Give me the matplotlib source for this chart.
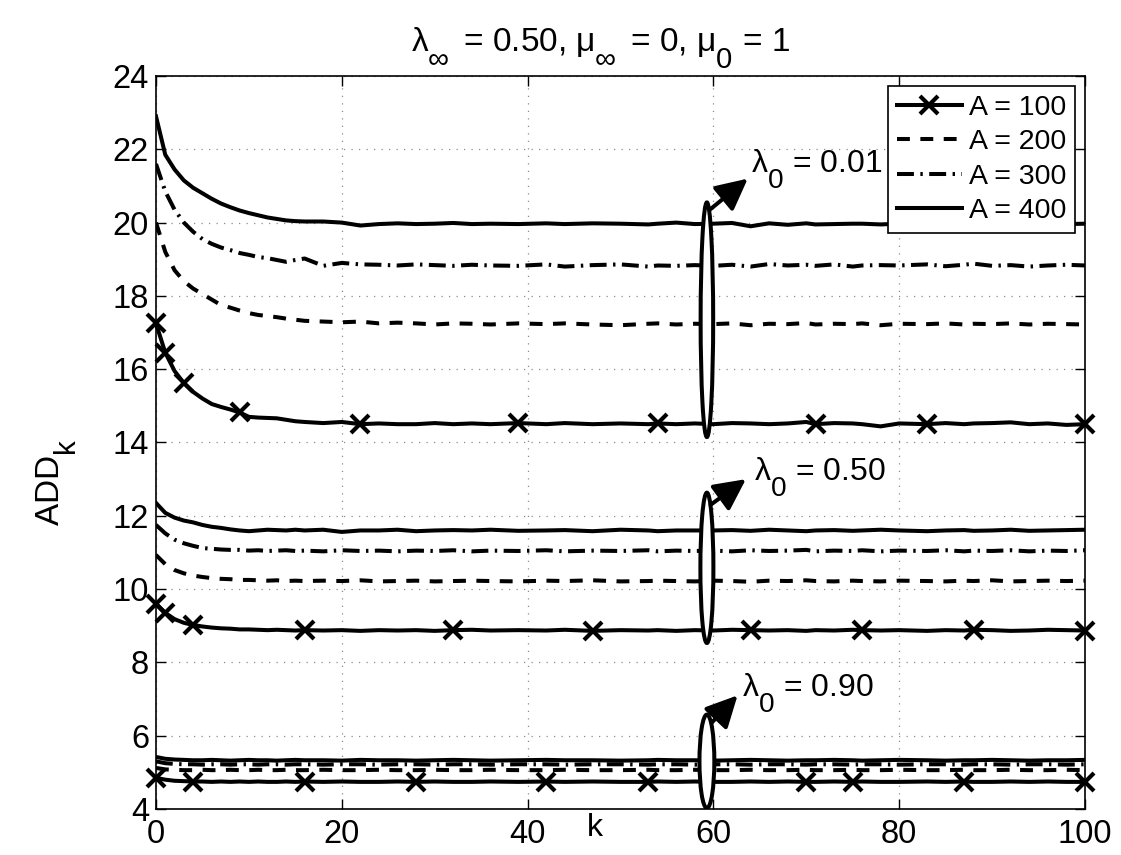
import matplotlib
matplotlib.use("Agg")
import matplotlib.pyplot as plt
from matplotlib.patches import Ellipse
import matplotlib._mathtext as _mt

# MATLAB-like subscripts: larger and lower than mathtext defaults
_mt.SHRINK_FACTOR = 0.88
_mt.FontConstantsBase.sub1 = 0.95

plt.rcParams['font.family'] = ['Liberation Sans', 'DejaVu Sans']
plt.rcParams['mathtext.fontset'] = 'custom'
plt.rcParams['mathtext.rm'] = 'Liberation Sans'
plt.rcParams['mathtext.it'] = 'Liberation Sans'
plt.rcParams['mathtext.bf'] = 'Liberation Sans:bold'

# ---------------- data ----------------
k_vals = [0, 1, 2, 3, 4, 5, 6, 7, 8, 9, 10, 11, 12, 13, 14, 15, 16,
          18, 20, 22, 24, 26, 28, 30, 32, 34, 36,
          39, 42, 44, 47, 50, 53, 54, 56, 58, 60,
          62, 64, 66, 68, 70, 71, 73, 75, 76, 78, 80,
          83, 85, 87, 88, 90, 92, 94, 96, 98, 100]

a_labels = ['A = 100', 'A = 200', 'A = 300', 'A = 400']

# lambda_0 = 0.01
l001_a100 = [17.25, 16.45, 15.95, 15.62, 15.38, 15.20, 15.05, 14.97, 14.90, 14.82, 14.70, 14.68, 14.67, 14.66, 14.62, 14.58, 14.56,
             14.53, 14.56, 14.50, 14.52, 14.50, 14.50, 14.53, 14.50, 14.52, 14.50,
             14.53, 14.50, 14.53, 14.50, 14.52, 14.50, 14.52, 14.50, 14.52, 14.50,
             14.53, 14.52, 14.50, 14.52, 14.56, 14.50, 14.53, 14.52, 14.50, 14.44, 14.52,
             14.50, 14.53, 14.50, 14.52, 14.53, 14.55, 14.50, 14.52, 14.48, 14.50]
l001_a200 = [20.00, 19.20, 18.70, 18.40, 18.20, 18.05, 17.90, 17.75, 17.68, 17.60, 17.53, 17.48, 17.45, 17.42, 17.38, 17.35, 17.32,
             17.30, 17.28, 17.30, 17.25, 17.27, 17.25, 17.22, 17.25, 17.24, 17.22,
             17.25, 17.23, 17.25, 17.22, 17.20, 17.24, 17.25, 17.22, 17.24, 17.23,
             17.25, 17.20, 17.24, 17.23, 17.26, 17.22, 17.24, 17.23, 17.25, 17.20, 17.24,
             17.23, 17.25, 17.22, 17.24, 17.23, 17.25, 17.22, 17.24, 17.23, 17.22]
l001_a300 = [21.60, 20.85, 20.35, 20.00, 19.75, 19.55, 19.42, 19.32, 19.25, 19.17, 19.12, 19.06, 19.03, 18.98, 18.93, 18.98, 19.02,
             18.82, 18.90, 18.86, 18.85, 18.83, 18.86, 18.84, 18.82, 18.85, 18.83,
             18.82, 18.86, 18.80, 18.84, 18.86, 18.80, 18.83, 18.82, 18.84, 18.82,
             18.85, 18.80, 18.87, 18.83, 18.85, 18.82, 18.86, 18.80, 18.83, 18.84, 18.83,
             18.86, 18.81, 18.85, 18.88, 18.82, 18.84, 18.80, 18.83, 18.85, 18.83]
l001_a400 = [22.90, 21.85, 21.45, 21.15, 20.95, 20.80, 20.65, 20.52, 20.42, 20.33, 20.26, 20.20, 20.14, 20.10, 20.06, 20.04, 20.03,
             20.03, 20.00, 19.92, 19.96, 19.98, 19.96, 19.97, 19.99, 19.96, 19.97,
             19.96, 19.98, 19.96, 19.98, 19.97, 19.95, 19.97, 20.00, 19.96, 19.97,
             19.99, 19.90, 19.98, 19.94, 19.98, 19.95, 19.96, 19.97, 19.97, 19.95, 19.97,
             19.96, 19.98, 19.95, 19.97, 19.96, 19.98, 19.95, 19.97, 19.96, 19.97]

# lambda_0 = 0.50
l050_a100 = [9.60, 9.35, 9.18, 9.08, 9.02, 8.98, 8.95, 8.93, 8.92, 8.90, 8.90, 8.89, 8.88, 8.89, 8.88, 8.87, 8.88,
             8.87, 8.88, 8.86, 8.88, 8.87, 8.88, 8.86, 8.88, 8.89, 8.87,
             8.88, 8.87, 8.89, 8.86, 8.88, 8.87, 8.88, 8.86, 8.88, 8.87,
             8.89, 8.88, 8.87, 8.88, 8.86, 8.88, 8.87, 8.89, 8.88, 8.87, 8.88,
             8.86, 8.88, 8.87, 8.89, 8.88, 8.86, 8.87, 8.89, 8.88, 8.87]
l050_a200 = [10.93, 10.68, 10.52, 10.43, 10.37, 10.33, 10.30, 10.28, 10.27, 10.25, 10.25, 10.24, 10.23, 10.24, 10.22, 10.23, 10.22,
             10.23, 10.22, 10.24, 10.21, 10.22, 10.23, 10.21, 10.22, 10.23, 10.22,
             10.21, 10.23, 10.22, 10.24, 10.21, 10.22, 10.23, 10.22, 10.21, 10.23,
             10.22, 10.20, 10.23, 10.22, 10.24, 10.22, 10.21, 10.23, 10.22, 10.21, 10.23,
             10.22, 10.21, 10.23, 10.22, 10.24, 10.21, 10.22, 10.23, 10.22, 10.23]
l050_a300 = [11.75, 11.52, 11.35, 11.25, 11.18, 11.12, 11.10, 11.08, 11.07, 11.07, 11.05, 11.06, 11.04, 11.05, 11.06, 11.04, 11.05,
             11.03, 11.06, 11.04, 11.05, 11.03, 11.05, 11.04, 11.06, 11.03, 11.05,
             11.04, 11.06, 11.03, 11.05, 11.04, 11.06, 11.03, 11.05, 11.04, 11.05,
             11.03, 11.06, 11.04, 11.05, 11.07, 11.03, 11.05, 11.04, 11.06, 11.03, 11.05,
             11.04, 11.06, 11.03, 11.05, 11.04, 11.06, 11.03, 11.05, 11.04, 11.06]
l050_a400 = [12.35, 12.08, 11.95, 11.87, 11.82, 11.75, 11.70, 11.67, 11.63, 11.60, 11.58, 11.60, 11.62, 11.61, 11.60, 11.62, 11.60,
             11.62, 11.56, 11.60, 11.60, 11.62, 11.58, 11.60, 11.61, 11.60, 11.62,
             11.59, 11.60, 11.61, 11.58, 11.62, 11.60, 11.58, 11.60, 11.60, 11.60,
             11.61, 11.59, 11.62, 11.60, 11.58, 11.60, 11.61, 11.59, 11.60, 11.62, 11.60,
             11.58, 11.60, 11.61, 11.59, 11.60, 11.62, 11.59, 11.60, 11.61, 11.62]

# lambda_0 = 0.90
l090_a100 = [4.85, 4.80, 4.77, 4.76, 4.75, 4.75, 4.74, 4.75, 4.74, 4.75, 4.74, 4.75, 4.74, 4.74, 4.75, 4.74, 4.75,
             4.74, 4.75, 4.74, 4.74, 4.75, 4.74, 4.75, 4.74, 4.74, 4.75,
             4.74, 4.75, 4.74, 4.75, 4.74, 4.74, 4.75, 4.74, 4.75, 4.74,
             4.74, 4.75, 4.74, 4.75, 4.74, 4.74, 4.75, 4.74, 4.75, 4.74, 4.74,
             4.75, 4.74, 4.75, 4.74, 4.74, 4.75, 4.74, 4.75, 4.74, 4.74]
l090_a200 = [5.12, 5.08, 5.07, 5.06, 5.06, 5.07, 5.06, 5.06, 5.07, 5.06, 5.06, 5.07, 5.06, 5.06, 5.07, 5.06, 5.06,
             5.07, 5.06, 5.06, 5.07, 5.06, 5.06, 5.07, 5.06, 5.06, 5.07,
             5.06, 5.06, 5.07, 5.06, 5.06, 5.07, 5.06, 5.06, 5.07, 5.06,
             5.06, 5.07, 5.06, 5.06, 5.07, 5.06, 5.06, 5.07, 5.06, 5.06, 5.07,
             5.06, 5.06, 5.07, 5.06, 5.06, 5.07, 5.06, 5.06, 5.07, 5.06]
l090_a300 = [5.30, 5.25, 5.23, 5.22, 5.22, 5.21, 5.22, 5.22, 5.21, 5.22, 5.22, 5.21, 5.22, 5.22, 5.21, 5.22, 5.22,
             5.21, 5.22, 5.22, 5.21, 5.22, 5.22, 5.21, 5.22, 5.22, 5.21,
             5.22, 5.22, 5.21, 5.22, 5.22, 5.21, 5.22, 5.22, 5.21, 5.22,
             5.22, 5.21, 5.22, 5.22, 5.21, 5.22, 5.22, 5.21, 5.22, 5.22, 5.21,
             5.22, 5.22, 5.21, 5.22, 5.22, 5.21, 5.22, 5.22, 5.21, 5.22]
l090_a400 = [5.42, 5.37, 5.35, 5.34, 5.33, 5.33, 5.34, 5.33, 5.32, 5.33, 5.34, 5.33, 5.33, 5.32, 5.33, 5.34, 5.33,
             5.33, 5.32, 5.34, 5.33, 5.33, 5.32, 5.33, 5.34, 5.33, 5.32,
             5.33, 5.34, 5.33, 5.33, 5.32, 5.33, 5.34, 5.33, 5.33, 5.32,
             5.33, 5.34, 5.33, 5.32, 5.33, 5.33, 5.34, 5.33, 5.32, 5.33, 5.34,
             5.33, 5.32, 5.33, 5.33, 5.34, 5.33, 5.32, 5.33, 5.33, 5.34]

# k positions of the x markers on the A = 100 curves
marks_001 = [0, 1, 3, 9, 22, 39, 54, 71, 83, 100]
marks_050 = [0, 1, 4, 16, 32, 47, 64, 76, 88, 100]
marks_090 = [0, 4, 16, 28, 42, 53, 70, 75, 87, 100]

groups = [
    ('0.01', [l001_a100, l001_a200, l001_a300, l001_a400], marks_001),
    ('0.50', [l050_a100, l050_a200, l050_a300, l050_a400], marks_050),
    ('0.90', [l090_a100, l090_a200, l090_a300, l090_a400], marks_090),
]

# ellipse (center_k, center_y, width_k, height_y), arrow start/end, text pos
ellipses = [(59.3, 17.35, 1.35, 6.4), (59.3, 10.58, 1.4, 4.1), (59.3, 5.30, 1.6, 2.55)]
arrows = [((59.6, 20.35), (63.7, 21.2)), ((59.7, 12.3), (63.5, 13.0)), ((59.8, 6.35), (62.6, 7.1))]
text_pos = [(64.0, 21.35), (64.4, 12.95), (63.1, 7.05)]

# ---------------- plot ----------------
fig = plt.figure(figsize=(11.21, 8.55), dpi=100)
ax = fig.add_axes([156 / 1121, 1 - 809 / 855, (1085 - 156) / 1121, (809 - 76) / 855])

LW = 2.9
styles = [
    dict(linestyle='-', marker='x', markersize=13, markeredgewidth=3),
    dict(linestyle=(0, (3.2, 2.6))),
    dict(linestyle=(0, (4.2, 1.6, 0.6, 1.6))),
    dict(linestyle='-'),
]

handles = []
for gi, (lam, series, marks) in enumerate(groups):
    for si, ys in enumerate(series):
        kw = dict(styles[si])
        if si == 0:
            kw['markevery'] = [k_vals.index(m) for m in marks]
        ln, = ax.plot(k_vals, ys, color='k', lw=LW, clip_on=False if si == 0 else True,
                      label=a_labels[si] if gi == 0 else None, **kw)
        if gi == 0:
            handles.append(ln)

for (cx, cy, w, h), (p0, p1), (tx, ty), (lam, _, _) in zip(ellipses, arrows, text_pos, groups):
    ax.add_patch(Ellipse((cx, cy), w, h, facecolor='white', edgecolor='k', lw=LW, zorder=5))
    ax.annotate('', xy=p1, xytext=p0,
                arrowprops=dict(arrowstyle='-|>,head_length=0.8,head_width=0.4', lw=LW,
                                color='k', mutation_scale=24, shrinkA=0, shrinkB=0), zorder=6)
    ax.text(tx, ty, r'$\lambda_0$ = ' + lam, fontsize=23, ha='left', va='baseline', zorder=6)

ax.set_xlim(0, 100)
ax.set_ylim(4, 24)
ax.set_xticks(range(0, 101, 20))
ax.set_yticks(range(4, 25, 2))
ax.tick_params(direction='in', length=7, width=1, labelsize=23.5, top=True, right=True)
ax.tick_params(axis='x', pad=7)
ax.tick_params(axis='y', pad=5)
ax.grid(True, color='0.55', linestyle=(0, (1, 5)), lw=0.9)
for s in ax.spines.values():
    s.set_linewidth(1.2)

ax.set_title(r'$\lambda_{\infty}\,$ = 0.50, $\mu_{\infty}\,$ = 0, $\mu_0$ = 1', fontsize=24, pad=17)
ax.title.set_x(0.478)
ax.set_xlabel('k', fontsize=23, va='center')
ax.xaxis.set_label_coords(0.4725, -0.026)
ax.set_ylabel(r'ADD$_\mathrm{k}$', fontsize=24, va='center')
ax.yaxis.set_label_coords(-0.107, 0.446)

leg = ax.legend(handles=handles, loc='upper right', fontsize=20.5, numpoints=1,
                handlelength=2.3, handletextpad=0.25, labelspacing=0.3, borderpad=0.3,
                borderaxespad=0.35, fancybox=False, framealpha=1, edgecolor='k')
leg.get_frame().set_linewidth(1.2)
leg.set_zorder(10)

fig.savefig('out.png', dpi=100)
